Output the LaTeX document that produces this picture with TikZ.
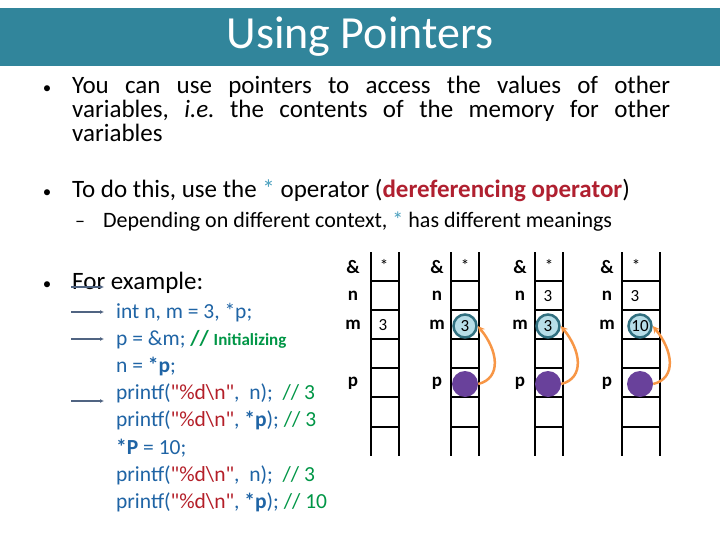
\documentclass[tikz,border=0pt]{standalone}
\usepackage{fontspec}
\setmainfont{Carlito}
\newfontfamily\plainquote{Carlito}
\usetikzlibrary{arrows.meta, positioning, calc}

\definecolor{titleteal}{RGB}{49,133,155}
\definecolor{codeblue}{RGB}{31,100,165}
\definecolor{strred}{RGB}{180,30,40}
\definecolor{cmtgreen}{RGB}{0,150,70}
\definecolor{derefred}{RGB}{176,32,48}
\definecolor{starblue}{RGB}{75,160,190}
\definecolor{ptrorange}{RGB}{247,150,70}
\definecolor{cellblue}{RGB}{183,222,232}
\definecolor{cellrim}{RGB}{49,112,128}
\definecolor{ptrpurple}{RGB}{105,65,155}
\definecolor{markgray}{RGB}{80,100,130}

\newcommand{\dq}{{\plainquote"}}
\frenchspacing

\begin{document}
\begin{tikzpicture}[
    x=1pt, y=-1pt,
    bodytext/.style={anchor=base west, inner sep=0pt, font=\fontsize{25}{29}\selectfont},
    subtext/.style={anchor=base west, inner sep=0pt, font=\fontsize{22}{26}\selectfont},
    bulletmark/.style={anchor=base, inner sep=0pt, font=\fontsize{17}{20}\selectfont},
    codeline/.style={anchor=base west, inner sep=0pt, text=codeblue, font=\fontsize{21.5}{26}\selectfont},
    memlabel/.style={inner sep=0pt, font=\fontsize{19}{22}\selectfont\bfseries},
    cellval/.style={inner sep=0pt, font=\fontsize{17}{20}\selectfont},
    valcircle/.style={circle, draw=cellrim, line width=2.5pt, fill=cellblue, minimum size=23pt, inner sep=0pt, font=\fontsize{17}{20}\selectfont},
    ptrdot/.style={circle, fill=ptrpurple, minimum size=26pt, inner sep=0pt},
    derefarrow/.style={-{Stealth[length=7pt,width=7pt]}, ptrorange, line width=2.5pt},
    steparrow/.style={-{Latex[length=4pt,width=4pt]}, markgray, line width=1.2pt},
    rung/.style={line width=2pt}
]
\useasboundingbox (0,0) rectangle (720,540);
\fill[white] (0,0) rectangle (720,540);

% Title bar
\fill[titleteal] (0,8) rectangle (720,66);
\node[text=white, font=\fontsize{46}{52}\selectfont] (title) at (360,37) {Using Pointers};

% Bullets
\node[bulletmark] (b1) at (47,94) {•};
\node[bodytext] (t1a) at (72,94) {\makebox[598pt][s]{You can use pointers to access the values of other}};
\node[bodytext] (t1b) at (72,118) {\makebox[598pt][s]{variables, \textit{i.e.} the contents of the memory for other}};
\node[bodytext] (t1c) at (72,142) {variables};

\node[bulletmark] (b2) at (47,198) {•};
\node[bodytext] (t2) at (72,198) {To do this, use the \textcolor{starblue}{*} operator (\textcolor{derefred}{\bfseries dereferencing operator})};
\node[anchor=base, inner sep=0pt, font=\fontsize{20}{24}\selectfont] (d2) at (80,228) {–};
\node[subtext] (t2s) at (103,228) {Depending on different context, \textcolor{starblue}{*} has different meanings};

\node[bulletmark] (b3) at (47,289) {•};
\node[bodytext] (t3) at (72,289) {For example:};

% Code
\node[codeline] (c1) at (116,318) {int n, m = 3, *p;};
\node[codeline] (c2) at (116,345) {p = \&m; \textcolor{cmtgreen}{\bfseries //~{\fontsize{17}{20}\selectfont Initializing}}};
\node[codeline] (c3) at (116,372) {n = \textbf{*p};};
\node[codeline] (c4) at (116,399) {printf(\textcolor{strred}{\dq\%d\textbackslash n\dq},~~n);~~\textcolor{cmtgreen}{// 3}};
\node[codeline] (c5) at (116,426) {printf(\textcolor{strred}{\dq\%d\textbackslash n\dq}, \textbf{*p}); \textcolor{cmtgreen}{// 3}};
\node[codeline] (c6) at (116,454) {\textbf{*P} = 10;};
\node[codeline] (c7) at (116,481) {printf(\textcolor{strred}{\dq\%d\textbackslash n\dq},~~n);~~\textcolor{cmtgreen}{// 3}};
\node[codeline] (c8) at (116,508) {printf(\textcolor{strred}{\dq\%d\textbackslash n\dq}, \textbf{*p}); \textcolor{cmtgreen}{// 10}};

% Step markers
\foreach \k/\y in {1/287, 2/312, 3/339, 4/401} {
  \coordinate (s\k) at (71,\y);
  \coordinate (e\k) at (104,\y);
  \draw[steparrow] (s\k) -- (e\k);
}

% Memory ladders
\foreach \xl/\xr in {371/399, 451/479, 535/563, 622/660} {
  \draw[rung] (\xl,252) -- (\xl,456) (\xr,252) -- (\xr,456);
  \foreach \y in {281,310,339,368,397,427}
    \draw[rung] (\xl,\y) -- (\xr,\y);
}
\foreach \i/\xa/\xc in {1/353/384, 2/437/465, 3/520/549, 4/607/636} {
  \node[memlabel] (amp\i) at (\xa,267) {\&};
  \node[memlabel] (n\i) at (\xa,296) {n};
  \node[memlabel] (m\i) at (\xa,325) {m};
  \node[memlabel] (p\i) at (\xa,383) {p};
  \node[cellval] (star\i) at (\xc,265) {*};
}

% Values
\node[cellval] (mv1) at (383,325) {3};
\node[cellval] (nv3) at (548,296) {3};
\node[cellval] (nv4) at (635,296) {3};
\node[valcircle] (mc2) at (465,326) {3};
\node[valcircle] (mc3) at (548,326) {3};
\node[valcircle] (mc4) at (640,326) {10};
\node[ptrdot] (pd2) at (465,384) {};
\node[ptrdot] (pd3) at (548,384) {};
\node[ptrdot] (pd4) at (640,384) {};

% Pointer arrows
\foreach \i in {2,3,4}
  \draw[derefarrow] (pd\i.east) .. controls +(24,-6) and +(20,24) .. (mc\i.east);

\end{tikzpicture}
\end{document}
